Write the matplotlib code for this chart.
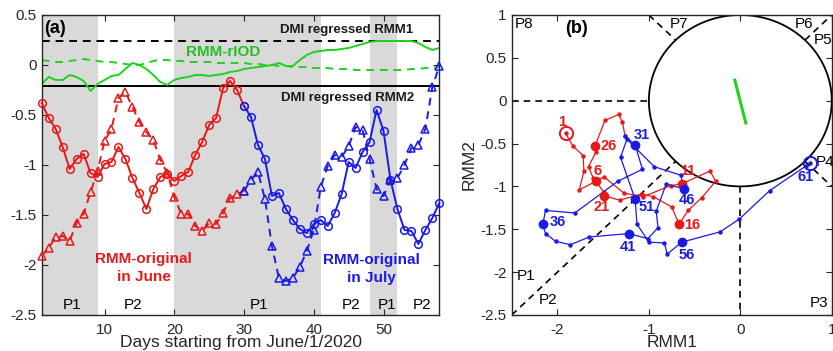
import numpy as np
import matplotlib
matplotlib.use("Agg")
import matplotlib.pyplot as plt

plt.rcParams['font.family'] = ['Liberation Sans', 'DejaVu Sans']

# ---------------- data ----------------
days_june = list(range(1, 31))
june_rmm1 = [-1.91, -1.83, -1.72, -1.71, -1.76, -1.58, -1.49, -1.27, -1.06, -0.76,
             -0.64, -0.33, -0.27, -0.42, -0.57, -0.67, -0.75, -0.95, -1.08, -1.32,
             -1.49, -1.49, -1.61, -1.66, -1.58, -1.59, -1.48, -1.33, -1.29, -1.26]
june_rmm2 = [-0.38, -0.53, -0.64, -0.82, -1.04, -0.94, -0.89, -1.08, -1.12, -0.99,
             -0.97, -0.82, -0.94, -1.13, -1.28, -1.44, -1.24, -1.12, -1.09, -1.16,
             -1.11, -1.07, -0.90, -0.77, -0.60, -0.53, -0.23, -0.16, -0.25, -0.41]

days_july = list(range(30, 62))
july_rmm1 = [-1.26, -1.15, -1.07, -1.34, -1.81, -2.13, -2.16, -2.13, -2.02, -1.86,
             -1.65, -1.22, -1.01, -0.90, -0.92, -0.81, -0.62, -0.65, -0.94, -1.24,
             -1.31, -1.15, -1.13, -1.00, -0.83, -0.80, -0.64, -0.22, -0.01, 0.32,
             0.72, 0.76]
july_rmm2 = [-0.41, -0.52, -0.80, -0.94, -1.31, -1.28, -1.44, -1.55, -1.64, -1.68,
             -1.59, -1.55, -1.61, -1.48, -1.29, -0.97, -1.03, -0.87, -0.77, -0.45,
             -0.66, -1.15, -1.44, -1.65, -1.66, -1.79, -1.65, -1.53, -1.38, -1.05,
             -0.76, -0.73]

days_riod = list(range(1, 59))
riod_rmm2 = [-0.19, -0.12, -0.15, -0.15, -0.10, -0.12, -0.16, -0.26, -0.19, -0.15,
             -0.11, -0.10, -0.04, 0.02, 0.00, -0.04, -0.10, -0.17, -0.20, -0.15,
             -0.13, -0.12, -0.10, -0.10, -0.11, -0.10, -0.09, -0.07, -0.06, -0.04,
             -0.03, -0.02, -0.01, 0.00, 0.02, -0.01, -0.01, 0.05, 0.10, 0.13,
             0.14, 0.15, 0.15, 0.16, 0.17, 0.19, 0.21, 0.23, 0.24, 0.24,
             0.24, 0.24, 0.24, 0.24, 0.22, 0.18, 0.15, 0.17]
riod_rmm1 = [0.05, 0.04, 0.03, 0.03, 0.04, 0.05, 0.06, 0.05, 0.04, 0.03,
             0.03, 0.02, 0.01, 0.00, 0.00, 0.02, 0.04, 0.05, 0.05, 0.04,
             0.04, 0.03, 0.03, 0.03, 0.03, 0.02, 0.02, 0.02, 0.02, 0.02,
             0.01, 0.01, 0.00, 0.00, -0.01, -0.01, -0.02, -0.02, -0.02, -0.03,
             -0.03, -0.03, -0.04, -0.04, -0.04, -0.05, -0.05, -0.05, -0.05, -0.05,
             -0.05, -0.05, -0.05, -0.04, -0.04, -0.03, -0.03, -0.02]

dmi_rmm1 = 0.24
dmi_rmm2 = -0.21

# rIOD segment in phase space (RMM1, RMM2)
riod_seg_x = [-0.06, 0.06]
riod_seg_y = [0.24, -0.26]

p1_start = [1, 20, 48]
p1_end = [9, 41, 52]
period_names = ['P1', 'P2', 'P1', 'P2', 'P1', 'P2']
period_days = [5.4, 14.1, 32.2, 45.4, 50.5, 55.5]

big_days_june = [6, 11, 16, 21, 26]
big_days_july = [31, 36, 41, 46, 51, 56]
label_days = [1, 6, 11, 16, 21, 26, 31, 36, 41, 46, 51, 56, 61]

phase_names = ['P1', 'P2', 'P3', 'P4', 'P5', 'P6', 'P7', 'P8']

# ---------------- style ----------------
RED = '#e61919'
BLUE = '#1a1ae6'
GREEN = '#1ed21e'
GREEN_TXT = '#22c022'
GRAY = '#d9d9d9'
AXC = '#262626'

fig = plt.figure(figsize=(8.33, 3.51), dpi=100)
axa = fig.add_axes([0.0501, 0.1026, 0.4773, 0.8547])
axb = fig.add_axes([0.6143, 0.1026, 0.3842, 0.8547])

for ax in (axa, axb):
    ax.tick_params(direction='in', top=True, right=True, length=4, width=0.8,
                   labelsize=11, colors=AXC)
    for s in ax.spines.values():
        s.set_linewidth(1.0)
        s.set_color(AXC)
    ax.tick_params(axis='x', pad=5.5)

# ---------------- panel (a) ----------------
axa.set_xlim(1, 58)
axa.set_ylim(-2.5, 0.5)
for s0, s1 in zip(p1_start, p1_end):
    axa.axvspan(s0, s1, color=GRAY, lw=0, zorder=0)

axa.axhline(dmi_rmm1, color='k', ls=(0, (4, 3)), lw=1.4, zorder=1)
axa.axhline(dmi_rmm2, color='k', ls='-', lw=1.4, zorder=1)

axa.plot(days_riod, riod_rmm2, color=GREEN, lw=1.4, zorder=2)
axa.plot(days_riod, riod_rmm1, color=GREEN, lw=1.4, ls=(0, (4, 3)), zorder=2)

mk = dict(ms=5.5, mfc='none', mew=1.1, clip_on=False)
axa.plot(days_june, june_rmm2, '-o', color=RED, lw=1.4, zorder=3, **mk)
axa.plot(days_june, june_rmm1, '^', ls=(0, (4, 3)), color=RED, lw=1.4, zorder=3, **mk)

jd = [d for d in days_july if d <= 58]
n = len(jd)
axa.plot(jd, july_rmm2[:n], '-o', color=BLUE, lw=1.4, zorder=4, **mk)
axa.plot(jd, july_rmm1[:n], '^', ls=(0, (4, 3)), color=BLUE, lw=1.4, zorder=4, **mk)

axa.set_xticks([10, 20, 30, 40, 50])
axa.set_yticks([0.5, 0, -0.5, -1, -1.5, -2, -2.5])
axa.set_yticklabels(['0.5', '0', '-0.5', '-1', '-1.5', '-2', '-2.5'])
axa.set_xlabel('Days starting from June/1/2020', fontsize=12.5, labelpad=-1, color=AXC)

for name, d in zip(period_names, period_days):
    axa.text(d, -2.4, name, ha='center', va='center', fontsize=11, color='k')

axa.text(1.4, 0.36, '(a)', fontsize=13, fontweight='bold', ha='left', va='center')
axa.text(44.7, 0.35, 'DMI regressed RMM1', fontsize=9.5, fontweight='bold',
         ha='center', va='center', color='#1a1a1a')
axa.text(44.8, -0.33, 'DMI regressed RMM2', fontsize=9.5, fontweight='bold',
         ha='center', va='center', color='#1a1a1a')
axa.text(27.0, 0.13, 'RMM-rIOD', fontsize=11, fontweight='bold',
         ha='center', va='center', color=GREEN_TXT)
axa.text(15.6, -2.03, 'RMM-original\nin June', fontsize=11, fontweight='bold',
         ha='center', va='center', color=RED, linespacing=1.3)
axa.text(48.2, -2.04, 'RMM-original\nin July', fontsize=11, fontweight='bold',
         ha='center', va='center', color=BLUE, linespacing=1.3)

# ---------------- panel (b) ----------------
axb.set_xlim(-2.5, 1)
axb.set_ylim(-2.5, 1)
r = 1 / np.sqrt(2)
dash = dict(color='k', ls=(0, (4, 3)), lw=1.2, zorder=1)
axb.plot([-2.5, -1], [0, 0], **dash)
axb.plot([0, 0], [-1, -2.5], **dash)
axb.plot([-2.5, -r], [-2.5, -r], **dash)
axb.plot([-1, -r], [1, r], **dash)
axb.plot([r, 1], [r, 1], **dash)
axb.plot([r, 1], [-r, -1], **dash)
th = np.linspace(0, 2 * np.pi, 300)
axb.plot(np.cos(th), np.sin(th), color='k', lw=1.3, zorder=2)

axb.plot(riod_seg_x, riod_seg_y, color=GREEN, lw=2.2, zorder=3)

axb.plot(june_rmm1, june_rmm2, '-o', color=RED, lw=0.9, ms=2.2, zorder=4)
axb.plot(july_rmm1, july_rmm2, '-o', color=BLUE, lw=0.9, ms=2.2, zorder=5)

for d in big_days_june:
    i = days_june.index(d)
    axb.plot(june_rmm1[i], june_rmm2[i], 'o', color=RED, ms=6, zorder=6)
for d in big_days_july:
    i = days_july.index(d)
    axb.plot(july_rmm1[i], july_rmm2[i], 'o', color=BLUE, ms=6, zorder=6)
axb.plot(june_rmm1[0], june_rmm2[0], 'o', mfc='none', mec=RED, mew=1.4, ms=9.5, zorder=6)
axb.plot(july_rmm1[-1], july_rmm2[-1], 'o', mfc='none', mec=BLUE, mew=1.4, ms=9.5, zorder=6,
         clip_on=False)

label_off = {1: (-0.04, 0.135), 6: (0.02, 0.12), 11: (0.07, 0.15), 16: (0.14, -0.01),
             21: (-0.03, -0.13), 26: (0.155, 0.0), 31: (0.07, 0.12), 36: (0.16, 0.03),
             41: (-0.01, -0.16), 46: (0.04, -0.13), 51: (0.13, -0.09), 56: (0.05, -0.15),
             61: (-0.05, -0.16)}
for d in label_days:
    if d in days_june and d <= 29:
        x, y, c = june_rmm1[days_june.index(d)], june_rmm2[days_june.index(d)], RED
    else:
        x, y, c = july_rmm1[days_july.index(d)], july_rmm2[days_july.index(d)], BLUE
    dx, dy = label_off[d]
    axb.text(x + dx, y + dy, str(d), color=c, fontsize=10.5, fontweight='bold',
             ha='center', va='center', zorder=7)

phase_pos = {'P1': (-2.44, -2.05), 'P2': (-2.20, -2.33), 'P3': (0.76, -2.36),
             'P4': (0.82, -0.71), 'P5': (0.80, 0.71), 'P6': (0.60, 0.89),
             'P7': (-0.77, 0.89), 'P8': (-2.47, 0.89)}
for name in phase_names:
    px, py = phase_pos[name]
    axb.text(px, py, name, fontsize=11, ha='left', va='center', color='k', clip_on=False)

axb.text(-1.92, 0.84, '(b)', fontsize=13, fontweight='bold', ha='left', va='center')
axb.set_xticks([-2, -1, 0, 1])
axb.set_xticklabels(['-2', '-1', '0', '1'])
axb.set_yticks([1, 0.5, 0, -0.5, -1, -1.5, -2, -2.5])
axb.set_yticklabels(['1', '0.5', '0', '-0.5', '-1', '-1.5', '-2', '-2.5'])
axb.set_xlabel('RMM1', fontsize=12.5, labelpad=-1, color=AXC)
axb.set_ylabel('RMM2', fontsize=12.5, labelpad=3, color=AXC)

fig.savefig('out.png', dpi=100)
